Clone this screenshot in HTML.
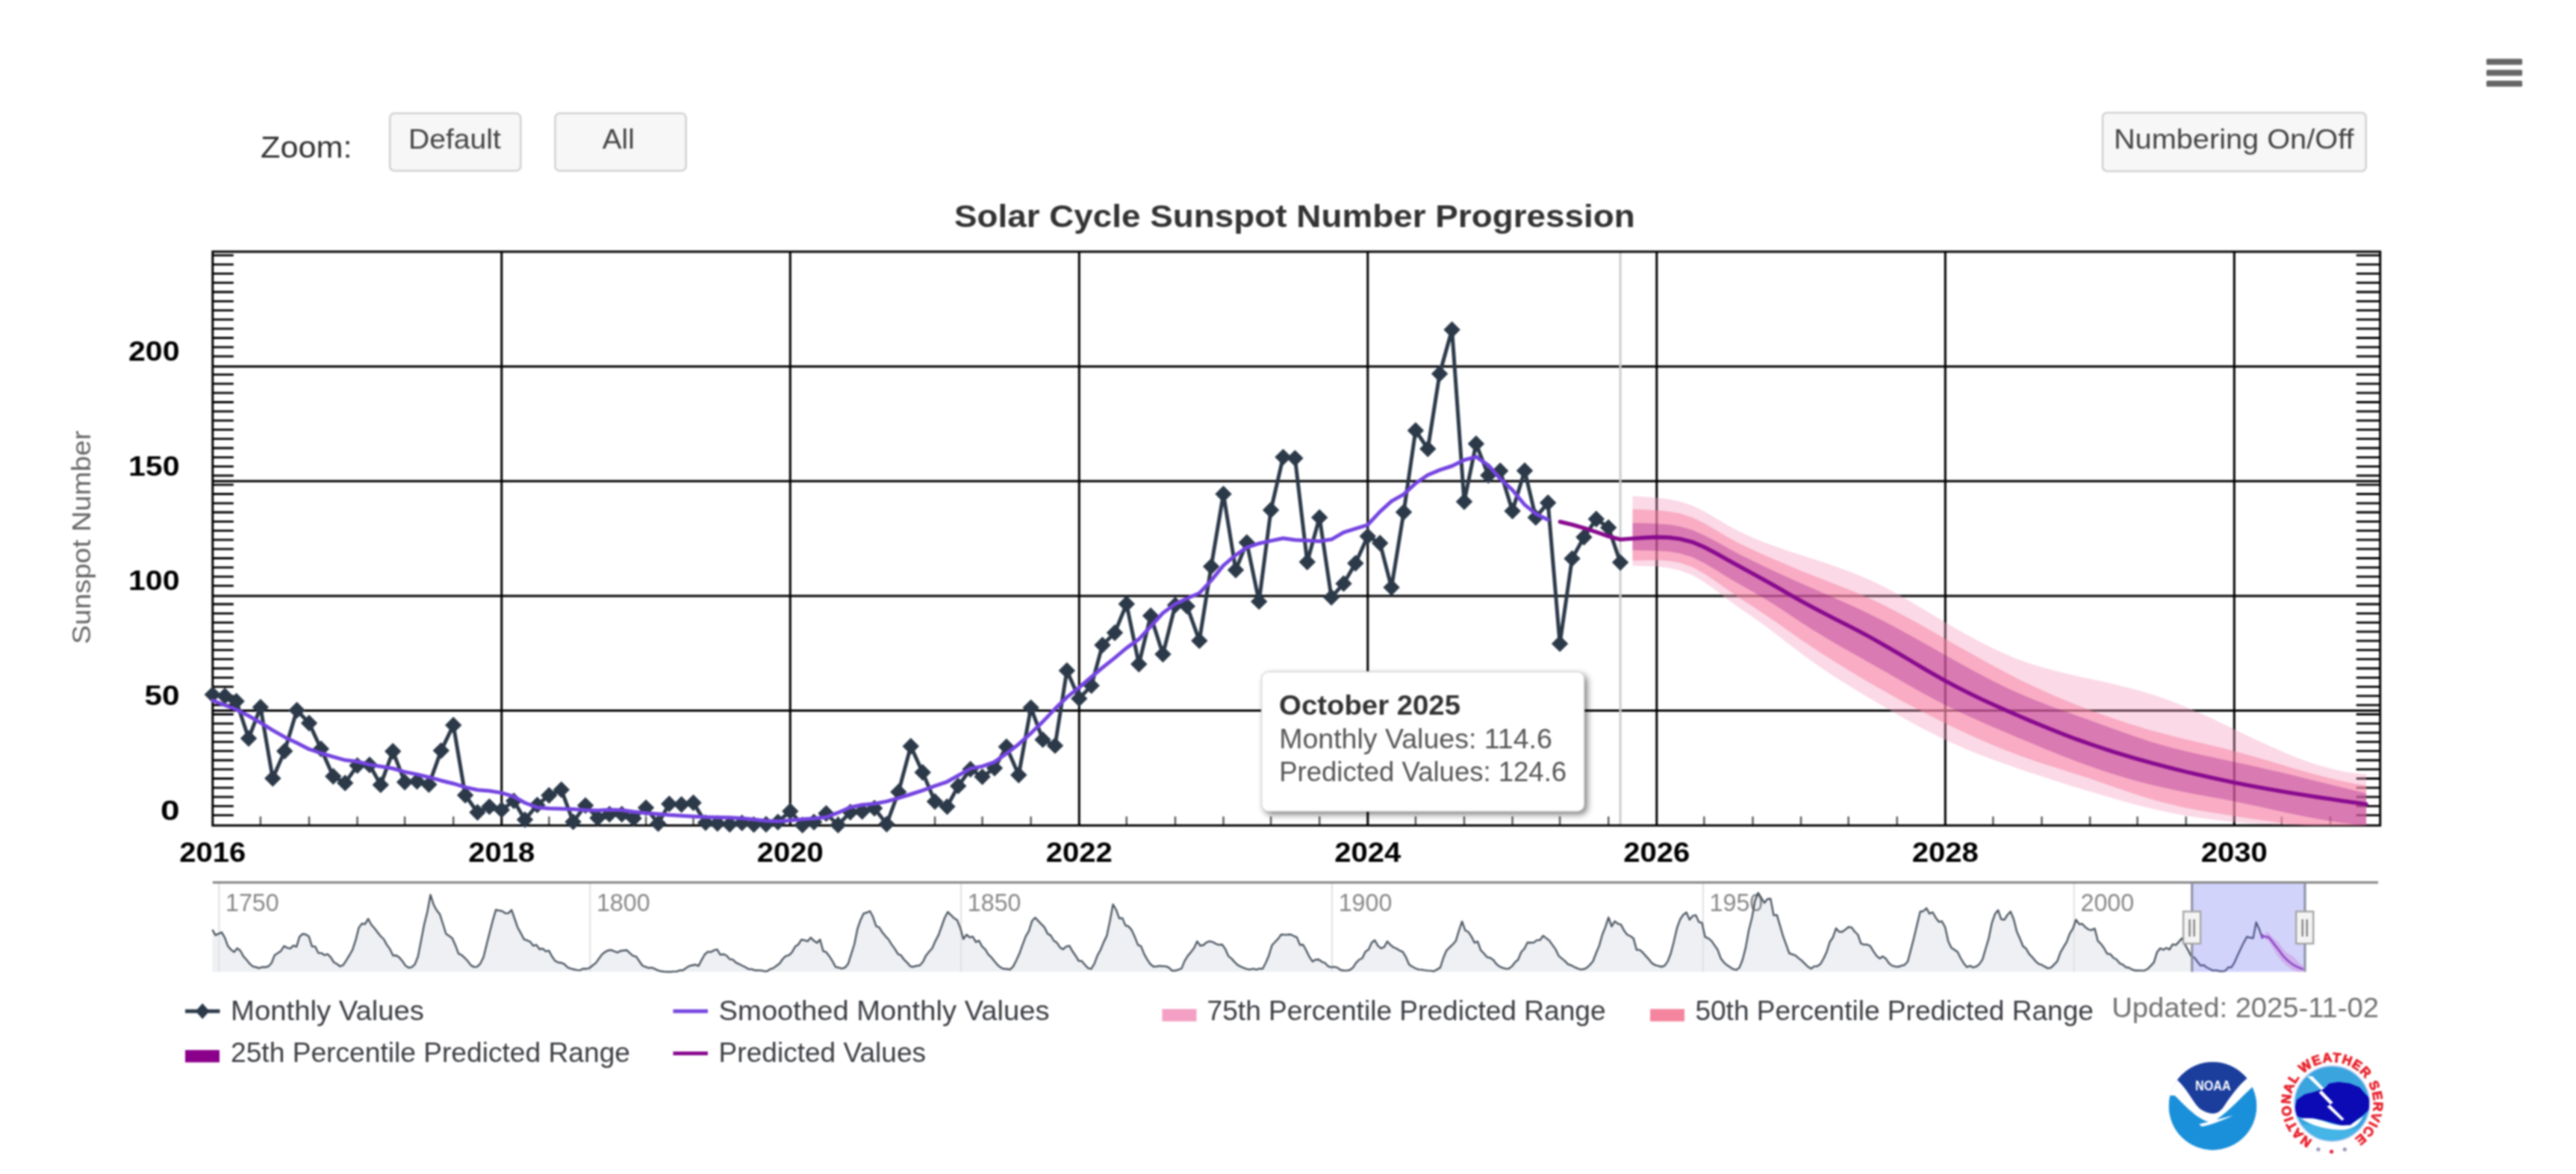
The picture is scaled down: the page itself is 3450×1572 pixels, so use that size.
<!DOCTYPE html>
<html lang="en"><head><meta charset="utf-8"><title>Solar Cycle Sunspot Number Progression</title>
<style>html,body{margin:0;padding:0;background:#fff;overflow:hidden}svg{display:block;width:100vw;height:100vh;filter:blur(1px)}text{font-family:"Liberation Sans", sans-serif}</style></head><body>
<svg width="3450" height="1572" viewBox="0 0 3450 1572">
<defs>
<clipPath id="plotclip"><rect x="268.8" y="317" width="2934.9" height="802.3"/></clipPath>
<clipPath id="bandclip"><rect x="284.8" y="337" width="2902.9" height="768.3"/></clipPath>
<filter id="ttshadow" x="-10%" y="-10%" width="125%" height="130%"><feGaussianBlur in="SourceAlpha" stdDeviation="5"/><feOffset dx="4" dy="4"/><feComponentTransfer><feFuncA type="linear" slope="0.55"/></feComponentTransfer><feMerge><feMergeNode/><feMergeNode in="SourceGraphic"/></feMerge></filter>
</defs>
<rect width="3450" height="1572" fill="#fff"/>
<rect x="3330" y="78.7" width="48" height="8" rx="1.5" fill="#666"/>
<rect x="3330" y="93.6" width="48" height="8" rx="1.5" fill="#666"/>
<rect x="3330" y="108.1" width="48" height="8" rx="1.5" fill="#666"/>
<text x="349" y="210.6" font-size="40" fill="#333" textLength="122.4" lengthAdjust="spacingAndGlyphs">Zoom:</text>
<rect x="522.1" y="151.8" width="175.2" height="76.9" rx="6" fill="#f7f7f7" stroke="#d2d2d2" stroke-width="2.6"/>
<text x="546.9" y="199" font-size="37" fill="#444" textLength="123.9" lengthAdjust="spacingAndGlyphs">Default</text>
<rect x="743.5" y="151.8" width="175.2" height="76.9" rx="6" fill="#f7f7f7" stroke="#d2d2d2" stroke-width="2.6"/>
<text x="806.8" y="199" font-size="37" fill="#444" textLength="43" lengthAdjust="spacingAndGlyphs">All</text>
<rect x="2816" y="151" width="352.7" height="78.3" rx="6" fill="#f7f7f7" stroke="#d2d2d2" stroke-width="2.6"/>
<text x="2830.9" y="199.3" font-size="37.5" fill="#444" textLength="321.6" lengthAdjust="spacingAndGlyphs">Numbering On/Off</text>
<text x="1277.9" y="304.1" font-size="43" fill="#333" font-weight="bold" textLength="911.8" lengthAdjust="spacingAndGlyphs">Solar Cycle Sunspot Number Progression</text>
<line x1="284.8" y1="951.6" x2="3187.7" y2="951.6" stroke="#000" stroke-width="3"/>
<line x1="284.8" y1="798" x2="3187.7" y2="798" stroke="#000" stroke-width="3"/>
<line x1="284.8" y1="644.3" x2="3187.7" y2="644.3" stroke="#000" stroke-width="3"/>
<line x1="284.8" y1="490.7" x2="3187.7" y2="490.7" stroke="#000" stroke-width="3"/>
<line x1="671.8" y1="337" x2="671.8" y2="1105.3" stroke="#000" stroke-width="3"/>
<line x1="1058.3" y1="337" x2="1058.3" y2="1105.3" stroke="#000" stroke-width="3"/>
<line x1="1445.3" y1="337" x2="1445.3" y2="1105.3" stroke="#000" stroke-width="3"/>
<line x1="1831.8" y1="337" x2="1831.8" y2="1105.3" stroke="#000" stroke-width="3"/>
<line x1="2218.8" y1="337" x2="2218.8" y2="1105.3" stroke="#000" stroke-width="3"/>
<line x1="2605.3" y1="337" x2="2605.3" y2="1105.3" stroke="#000" stroke-width="3"/>
<line x1="2992.3" y1="337" x2="2992.3" y2="1105.3" stroke="#000" stroke-width="3"/>
<line x1="348.9" y1="1093.3" x2="348.9" y2="1105.3" stroke="#555" stroke-width="2.4"/>
<line x1="414" y1="1093.3" x2="414" y2="1105.3" stroke="#555" stroke-width="2.4"/>
<line x1="478.6" y1="1093.3" x2="478.6" y2="1105.3" stroke="#555" stroke-width="2.4"/>
<line x1="542.1" y1="1093.3" x2="542.1" y2="1105.3" stroke="#555" stroke-width="2.4"/>
<line x1="607.2" y1="1093.3" x2="607.2" y2="1105.3" stroke="#555" stroke-width="2.4"/>
<line x1="735.3" y1="1093.3" x2="735.3" y2="1105.3" stroke="#555" stroke-width="2.4"/>
<line x1="800.5" y1="1093.3" x2="800.5" y2="1105.3" stroke="#555" stroke-width="2.4"/>
<line x1="865.1" y1="1093.3" x2="865.1" y2="1105.3" stroke="#555" stroke-width="2.4"/>
<line x1="928.6" y1="1093.3" x2="928.6" y2="1105.3" stroke="#555" stroke-width="2.4"/>
<line x1="993.7" y1="1093.3" x2="993.7" y2="1105.3" stroke="#555" stroke-width="2.4"/>
<line x1="1122.4" y1="1093.3" x2="1122.4" y2="1105.3" stroke="#555" stroke-width="2.4"/>
<line x1="1187.5" y1="1093.3" x2="1187.5" y2="1105.3" stroke="#555" stroke-width="2.4"/>
<line x1="1252.1" y1="1093.3" x2="1252.1" y2="1105.3" stroke="#555" stroke-width="2.4"/>
<line x1="1315.6" y1="1093.3" x2="1315.6" y2="1105.3" stroke="#555" stroke-width="2.4"/>
<line x1="1380.7" y1="1093.3" x2="1380.7" y2="1105.3" stroke="#555" stroke-width="2.4"/>
<line x1="1508.8" y1="1093.3" x2="1508.8" y2="1105.3" stroke="#555" stroke-width="2.4"/>
<line x1="1574" y1="1093.3" x2="1574" y2="1105.3" stroke="#555" stroke-width="2.4"/>
<line x1="1638.5" y1="1093.3" x2="1638.5" y2="1105.3" stroke="#555" stroke-width="2.4"/>
<line x1="1702.1" y1="1093.3" x2="1702.1" y2="1105.3" stroke="#555" stroke-width="2.4"/>
<line x1="1767.2" y1="1093.3" x2="1767.2" y2="1105.3" stroke="#555" stroke-width="2.4"/>
<line x1="1895.9" y1="1093.3" x2="1895.9" y2="1105.3" stroke="#555" stroke-width="2.4"/>
<line x1="1961" y1="1093.3" x2="1961" y2="1105.3" stroke="#555" stroke-width="2.4"/>
<line x1="2025.6" y1="1093.3" x2="2025.6" y2="1105.3" stroke="#555" stroke-width="2.4"/>
<line x1="2089.1" y1="1093.3" x2="2089.1" y2="1105.3" stroke="#555" stroke-width="2.4"/>
<line x1="2154.2" y1="1093.3" x2="2154.2" y2="1105.3" stroke="#555" stroke-width="2.4"/>
<line x1="2282.3" y1="1093.3" x2="2282.3" y2="1105.3" stroke="#555" stroke-width="2.4"/>
<line x1="2347.5" y1="1093.3" x2="2347.5" y2="1105.3" stroke="#555" stroke-width="2.4"/>
<line x1="2412" y1="1093.3" x2="2412" y2="1105.3" stroke="#555" stroke-width="2.4"/>
<line x1="2475.6" y1="1093.3" x2="2475.6" y2="1105.3" stroke="#555" stroke-width="2.4"/>
<line x1="2540.7" y1="1093.3" x2="2540.7" y2="1105.3" stroke="#555" stroke-width="2.4"/>
<line x1="2669.3" y1="1093.3" x2="2669.3" y2="1105.3" stroke="#555" stroke-width="2.4"/>
<line x1="2734.5" y1="1093.3" x2="2734.5" y2="1105.3" stroke="#555" stroke-width="2.4"/>
<line x1="2799.1" y1="1093.3" x2="2799.1" y2="1105.3" stroke="#555" stroke-width="2.4"/>
<line x1="2862.6" y1="1093.3" x2="2862.6" y2="1105.3" stroke="#555" stroke-width="2.4"/>
<line x1="2927.7" y1="1093.3" x2="2927.7" y2="1105.3" stroke="#555" stroke-width="2.4"/>
<line x1="3055.8" y1="1093.3" x2="3055.8" y2="1105.3" stroke="#555" stroke-width="2.4"/>
<line x1="3121" y1="1093.3" x2="3121" y2="1105.3" stroke="#555" stroke-width="2.4"/>
<path d="M284.8 1091.7h28M3187.7 1091.7h-32M284.8 1079.4h28M3187.7 1079.4h-32M284.8 1067.1h28M3187.7 1067.1h-32M284.8 1054.8h28M3187.7 1054.8h-32M284.8 1042.5h28M3187.7 1042.5h-32M284.8 1030.2h28M3187.7 1030.2h-32M284.8 1018h28M3187.7 1018h-32M284.8 1005.7h28M3187.7 1005.7h-32M284.8 993.4h28M3187.7 993.4h-32M284.8 981.1h28M3187.7 981.1h-32M284.8 968.8h28M3187.7 968.8h-32M284.8 956.5h28M3187.7 956.5h-32M284.8 944.2h28M3187.7 944.2h-32M284.8 931.9h28M3187.7 931.9h-32M284.8 919.6h28M3187.7 919.6h-32M284.8 907.3h28M3187.7 907.3h-32M284.8 895h28M3187.7 895h-32M284.8 882.7h28M3187.7 882.7h-32M284.8 870.4h28M3187.7 870.4h-32M284.8 858.1h28M3187.7 858.1h-32M284.8 845.9h28M3187.7 845.9h-32M284.8 833.6h28M3187.7 833.6h-32M284.8 821.3h28M3187.7 821.3h-32M284.8 809h28M3187.7 809h-32M284.8 784.4h28M3187.7 784.4h-32M284.8 772.1h28M3187.7 772.1h-32M284.8 759.8h28M3187.7 759.8h-32M284.8 747.5h28M3187.7 747.5h-32M284.8 735.2h28M3187.7 735.2h-32M284.8 722.9h28M3187.7 722.9h-32M284.8 710.6h28M3187.7 710.6h-32M284.8 698.3h28M3187.7 698.3h-32M284.8 686h28M3187.7 686h-32M284.8 673.8h28M3187.7 673.8h-32M284.8 661.5h28M3187.7 661.5h-32M284.8 649.2h28M3187.7 649.2h-32M284.8 636.9h28M3187.7 636.9h-32M284.8 624.6h28M3187.7 624.6h-32M284.8 612.3h28M3187.7 612.3h-32M284.8 600h28M3187.7 600h-32M284.8 587.7h28M3187.7 587.7h-32M284.8 575.4h28M3187.7 575.4h-32M284.8 563.1h28M3187.7 563.1h-32M284.8 550.8h28M3187.7 550.8h-32M284.8 538.5h28M3187.7 538.5h-32M284.8 526.2h28M3187.7 526.2h-32M284.8 513.9h28M3187.7 513.9h-32M284.8 501.7h28M3187.7 501.7h-32M284.8 477.1h28M3187.7 477.1h-32M284.8 464.8h28M3187.7 464.8h-32M284.8 452.5h28M3187.7 452.5h-32M284.8 440.2h28M3187.7 440.2h-32M284.8 427.9h28M3187.7 427.9h-32M284.8 415.6h28M3187.7 415.6h-32M284.8 403.3h28M3187.7 403.3h-32M284.8 391h28M3187.7 391h-32M284.8 378.7h28M3187.7 378.7h-32M284.8 366.4h28M3187.7 366.4h-32M284.8 354.1h28M3187.7 354.1h-32M284.8 341.8h28M3187.7 341.8h-32" stroke="#000" stroke-width="2.8" fill="none"/>
<line x1="2170.1" y1="337" x2="2170.1" y2="1105.3" stroke="#cccccc" stroke-width="3"/>
<rect x="284.8" y="337" width="2902.9" height="768.3" fill="none" stroke="#000" stroke-width="3"/>
<g clip-path="url(#plotclip)">
<path d="M284.8 930.1 L301.2 932 L316.6 939 L333 988.8 L348.9 947 L365.3 1042.3 L381.2 1005.7 L397.6 951 L414 968.2 L429.9 1002.7 L446.3 1039.5 L462.2 1048.4 L478.6 1025.1 L495 1024.2 L509.8 1050.9 L526.2 1006 L542.1 1047.2 L558.5 1046.3 L574.4 1050.6 L590.8 1005.1 L607.2 971 L623.1 1064.7 L639.5 1087.8 L655.4 1080.1 L671.8 1084.4 L688.2 1072.4 L703 1097.6 L719.5 1077.9 L735.3 1065 L751.8 1057.4 L767.6 1100.4 L784.1 1078.6 L800.5 1095.2 L816.3 1090.2 L832.8 1090.2 L848.6 1095.8 L865.1 1081.6 L881.5 1102.8 L896.3 1076.4 L912.7 1077.3 L928.6 1074.9 L945 1101.6 L960.9 1102.5 L977.3 1103.8 L993.7 1101.9 L1009.6 1104.1 L1026 1103.8 L1041.9 1100.7 L1058.3 1086.2 L1074.7 1104.7 L1090.1 1100.7 L1106.5 1089.3 L1122.4 1104.7 L1138.8 1087.5 L1154.7 1086.6 L1171.1 1082.3 L1187.5 1103.5 L1203.4 1060.4 L1219.8 999.3 L1235.7 1034.3 L1252.1 1073.3 L1268.5 1080.1 L1283.3 1052.4 L1299.7 1030 L1315.6 1040.1 L1332 1028.5 L1347.9 999.9 L1364.3 1037.7 L1380.7 947.6 L1396.6 990.4 L1413 998.4 L1428.9 897.9 L1445.3 935.4 L1461.7 918.1 L1476.5 863.7 L1493 847.2 L1508.8 808.7 L1525.3 889.3 L1541.1 824.4 L1557.5 876 L1574 810.3 L1589.8 811.8 L1606.3 857.9 L1622.1 758.6 L1638.5 661.5 L1655 763.3 L1669.8 726.4 L1686.2 805.4 L1702.1 683 L1718.5 612.1 L1734.4 613.6 L1750.8 752.5 L1767.2 692.9 L1783.1 799.8 L1799.5 781.4 L1815.4 754.3 L1831.8 718.1 L1848.2 727.3 L1863.6 786.6 L1880 685.8 L1895.9 576.4 L1912.3 601 L1928.1 500.5 L1944.6 441.5 L1961 671.7 L1976.9 594.2 L1993.3 636.6 L2009.2 630.5 L2025.6 684.3 L2042 630.2 L2056.8 692.9 L2073.2 673.2 L2089.1 861.9 L2105.5 747.9 L2121.4 719.3 L2137.8 695 L2154.2 706.4 L2170.1 753.1" fill="none" stroke="#2b3949" stroke-width="5" stroke-linejoin="round" stroke-linecap="round"/>
<path d="M284.8 918.9l11.2 11.2l-11.2 11.2l-11.2 -11.2zM301.2 920.8l11.2 11.2l-11.2 11.2l-11.2 -11.2zM316.6 927.8l11.2 11.2l-11.2 11.2l-11.2 -11.2zM333 977.6l11.2 11.2l-11.2 11.2l-11.2 -11.2zM348.9 935.8l11.2 11.2l-11.2 11.2l-11.2 -11.2zM365.3 1031.1l11.2 11.2l-11.2 11.2l-11.2 -11.2zM381.2 994.5l11.2 11.2l-11.2 11.2l-11.2 -11.2zM397.6 939.8l11.2 11.2l-11.2 11.2l-11.2 -11.2zM414 957l11.2 11.2l-11.2 11.2l-11.2 -11.2zM429.9 991.5l11.2 11.2l-11.2 11.2l-11.2 -11.2zM446.3 1028.3l11.2 11.2l-11.2 11.2l-11.2 -11.2zM462.2 1037.2l11.2 11.2l-11.2 11.2l-11.2 -11.2zM478.6 1013.9l11.2 11.2l-11.2 11.2l-11.2 -11.2zM495 1013l11.2 11.2l-11.2 11.2l-11.2 -11.2zM509.8 1039.7l11.2 11.2l-11.2 11.2l-11.2 -11.2zM526.2 994.8l11.2 11.2l-11.2 11.2l-11.2 -11.2zM542.1 1036l11.2 11.2l-11.2 11.2l-11.2 -11.2zM558.5 1035.1l11.2 11.2l-11.2 11.2l-11.2 -11.2zM574.4 1039.4l11.2 11.2l-11.2 11.2l-11.2 -11.2zM590.8 993.9l11.2 11.2l-11.2 11.2l-11.2 -11.2zM607.2 959.8l11.2 11.2l-11.2 11.2l-11.2 -11.2zM623.1 1053.5l11.2 11.2l-11.2 11.2l-11.2 -11.2zM639.5 1076.6l11.2 11.2l-11.2 11.2l-11.2 -11.2zM655.4 1068.9l11.2 11.2l-11.2 11.2l-11.2 -11.2zM671.8 1073.2l11.2 11.2l-11.2 11.2l-11.2 -11.2zM688.2 1061.2l11.2 11.2l-11.2 11.2l-11.2 -11.2zM703 1086.4l11.2 11.2l-11.2 11.2l-11.2 -11.2zM719.5 1066.7l11.2 11.2l-11.2 11.2l-11.2 -11.2zM735.3 1053.8l11.2 11.2l-11.2 11.2l-11.2 -11.2zM751.8 1046.2l11.2 11.2l-11.2 11.2l-11.2 -11.2zM767.6 1089.2l11.2 11.2l-11.2 11.2l-11.2 -11.2zM784.1 1067.4l11.2 11.2l-11.2 11.2l-11.2 -11.2zM800.5 1084l11.2 11.2l-11.2 11.2l-11.2 -11.2zM816.3 1079l11.2 11.2l-11.2 11.2l-11.2 -11.2zM832.8 1079l11.2 11.2l-11.2 11.2l-11.2 -11.2zM848.6 1084.6l11.2 11.2l-11.2 11.2l-11.2 -11.2zM865.1 1070.4l11.2 11.2l-11.2 11.2l-11.2 -11.2zM881.5 1091.6l11.2 11.2l-11.2 11.2l-11.2 -11.2zM896.3 1065.2l11.2 11.2l-11.2 11.2l-11.2 -11.2zM912.7 1066.1l11.2 11.2l-11.2 11.2l-11.2 -11.2zM928.6 1063.7l11.2 11.2l-11.2 11.2l-11.2 -11.2zM945 1090.4l11.2 11.2l-11.2 11.2l-11.2 -11.2zM960.9 1091.3l11.2 11.2l-11.2 11.2l-11.2 -11.2zM977.3 1092.6l11.2 11.2l-11.2 11.2l-11.2 -11.2zM993.7 1090.7l11.2 11.2l-11.2 11.2l-11.2 -11.2zM1009.6 1092.9l11.2 11.2l-11.2 11.2l-11.2 -11.2zM1026 1092.6l11.2 11.2l-11.2 11.2l-11.2 -11.2zM1041.9 1089.5l11.2 11.2l-11.2 11.2l-11.2 -11.2zM1058.3 1075l11.2 11.2l-11.2 11.2l-11.2 -11.2zM1074.7 1093.5l11.2 11.2l-11.2 11.2l-11.2 -11.2zM1090.1 1089.5l11.2 11.2l-11.2 11.2l-11.2 -11.2zM1106.5 1078.1l11.2 11.2l-11.2 11.2l-11.2 -11.2zM1122.4 1093.5l11.2 11.2l-11.2 11.2l-11.2 -11.2zM1138.8 1076.3l11.2 11.2l-11.2 11.2l-11.2 -11.2zM1154.7 1075.4l11.2 11.2l-11.2 11.2l-11.2 -11.2zM1171.1 1071.1l11.2 11.2l-11.2 11.2l-11.2 -11.2zM1187.5 1092.3l11.2 11.2l-11.2 11.2l-11.2 -11.2zM1203.4 1049.2l11.2 11.2l-11.2 11.2l-11.2 -11.2zM1219.8 988.1l11.2 11.2l-11.2 11.2l-11.2 -11.2zM1235.7 1023.1l11.2 11.2l-11.2 11.2l-11.2 -11.2zM1252.1 1062.1l11.2 11.2l-11.2 11.2l-11.2 -11.2zM1268.5 1068.9l11.2 11.2l-11.2 11.2l-11.2 -11.2zM1283.3 1041.2l11.2 11.2l-11.2 11.2l-11.2 -11.2zM1299.7 1018.8l11.2 11.2l-11.2 11.2l-11.2 -11.2zM1315.6 1028.9l11.2 11.2l-11.2 11.2l-11.2 -11.2zM1332 1017.3l11.2 11.2l-11.2 11.2l-11.2 -11.2zM1347.9 988.7l11.2 11.2l-11.2 11.2l-11.2 -11.2zM1364.3 1026.5l11.2 11.2l-11.2 11.2l-11.2 -11.2zM1380.7 936.4l11.2 11.2l-11.2 11.2l-11.2 -11.2zM1396.6 979.2l11.2 11.2l-11.2 11.2l-11.2 -11.2zM1413 987.2l11.2 11.2l-11.2 11.2l-11.2 -11.2zM1428.9 886.7l11.2 11.2l-11.2 11.2l-11.2 -11.2zM1445.3 924.2l11.2 11.2l-11.2 11.2l-11.2 -11.2zM1461.7 906.9l11.2 11.2l-11.2 11.2l-11.2 -11.2zM1476.5 852.5l11.2 11.2l-11.2 11.2l-11.2 -11.2zM1493 836l11.2 11.2l-11.2 11.2l-11.2 -11.2zM1508.8 797.5l11.2 11.2l-11.2 11.2l-11.2 -11.2zM1525.3 878.1l11.2 11.2l-11.2 11.2l-11.2 -11.2zM1541.1 813.2l11.2 11.2l-11.2 11.2l-11.2 -11.2zM1557.5 864.8l11.2 11.2l-11.2 11.2l-11.2 -11.2zM1574 799.1l11.2 11.2l-11.2 11.2l-11.2 -11.2zM1589.8 800.6l11.2 11.2l-11.2 11.2l-11.2 -11.2zM1606.3 846.7l11.2 11.2l-11.2 11.2l-11.2 -11.2zM1622.1 747.4l11.2 11.2l-11.2 11.2l-11.2 -11.2zM1638.5 650.3l11.2 11.2l-11.2 11.2l-11.2 -11.2zM1655 752.1l11.2 11.2l-11.2 11.2l-11.2 -11.2zM1669.8 715.2l11.2 11.2l-11.2 11.2l-11.2 -11.2zM1686.2 794.2l11.2 11.2l-11.2 11.2l-11.2 -11.2zM1702.1 671.8l11.2 11.2l-11.2 11.2l-11.2 -11.2zM1718.5 600.9l11.2 11.2l-11.2 11.2l-11.2 -11.2zM1734.4 602.4l11.2 11.2l-11.2 11.2l-11.2 -11.2zM1750.8 741.3l11.2 11.2l-11.2 11.2l-11.2 -11.2zM1767.2 681.7l11.2 11.2l-11.2 11.2l-11.2 -11.2zM1783.1 788.6l11.2 11.2l-11.2 11.2l-11.2 -11.2zM1799.5 770.2l11.2 11.2l-11.2 11.2l-11.2 -11.2zM1815.4 743.1l11.2 11.2l-11.2 11.2l-11.2 -11.2zM1831.8 706.9l11.2 11.2l-11.2 11.2l-11.2 -11.2zM1848.2 716.1l11.2 11.2l-11.2 11.2l-11.2 -11.2zM1863.6 775.4l11.2 11.2l-11.2 11.2l-11.2 -11.2zM1880 674.6l11.2 11.2l-11.2 11.2l-11.2 -11.2zM1895.9 565.2l11.2 11.2l-11.2 11.2l-11.2 -11.2zM1912.3 589.8l11.2 11.2l-11.2 11.2l-11.2 -11.2zM1928.1 489.3l11.2 11.2l-11.2 11.2l-11.2 -11.2zM1944.6 430.3l11.2 11.2l-11.2 11.2l-11.2 -11.2zM1961 660.5l11.2 11.2l-11.2 11.2l-11.2 -11.2zM1976.9 583l11.2 11.2l-11.2 11.2l-11.2 -11.2zM1993.3 625.4l11.2 11.2l-11.2 11.2l-11.2 -11.2zM2009.2 619.3l11.2 11.2l-11.2 11.2l-11.2 -11.2zM2025.6 673.1l11.2 11.2l-11.2 11.2l-11.2 -11.2zM2042 619l11.2 11.2l-11.2 11.2l-11.2 -11.2zM2056.8 681.7l11.2 11.2l-11.2 11.2l-11.2 -11.2zM2073.2 662l11.2 11.2l-11.2 11.2l-11.2 -11.2zM2089.1 850.7l11.2 11.2l-11.2 11.2l-11.2 -11.2zM2105.5 736.7l11.2 11.2l-11.2 11.2l-11.2 -11.2zM2121.4 708.1l11.2 11.2l-11.2 11.2l-11.2 -11.2zM2137.8 683.8l11.2 11.2l-11.2 11.2l-11.2 -11.2zM2154.2 695.2l11.2 11.2l-11.2 11.2l-11.2 -11.2zM2170.1 741.9l11.2 11.2l-11.2 11.2l-11.2 -11.2z" fill="#2b3949"/>
<path d="M284.8 938 L301.2 944.1 L316.6 950.3 L333 958.5 L348.9 967.6 L365.3 977.9 L381.2 986.9 L397.6 994.7 L414 1003.2 L429.9 1008.5 L446.3 1013.4 L462.2 1017.8 L478.6 1019.8 L495 1023.9 L509.8 1026.3 L526.2 1029 L542.1 1033.6 L558.5 1036.9 L574.4 1040.7 L590.8 1045.2 L607.2 1049.2 L623.1 1054.1 L639.5 1057.8 L655.4 1059 L671.8 1061.6 L688.2 1066.7 L703 1075 L719.5 1081.2 L735.3 1082.4 L751.8 1083.1 L767.6 1083.6 L784.1 1084.8 L800.5 1085.2 L816.3 1084.3 L832.8 1084.7 L848.6 1086.9 L865.1 1088.8 L881.5 1090 L896.3 1091.3 L912.7 1092.2 L928.6 1093.3 L945 1094.1 L960.9 1094.5 L977.3 1094.7 L993.7 1095.8 L1009.6 1097.3 L1026 1099.1 L1041.9 1099.7 L1058.3 1098.5 L1074.7 1096.9 L1090.1 1096.1 L1106.5 1094.3 L1122.4 1088.2 L1138.8 1081 L1154.7 1077.7 L1171.1 1076.2 L1187.5 1073.1 L1203.4 1068.7 L1219.8 1063.5 L1235.7 1058.4 L1252.1 1052.3 L1268.5 1046.8 L1283.3 1038.5 L1299.7 1029.1 L1315.6 1026.1 L1332 1020.4 L1347.9 1008.9 L1364.3 996.4 L1380.7 981.8 L1396.6 966.4 L1413 949.1 L1428.9 933.6 L1445.3 920.5 L1461.7 906.5 L1476.5 894 L1493 880.9 L1508.8 867.6 L1525.3 855.9 L1541.1 838.7 L1557.5 820.8 L1574 808.7 L1589.8 801.2 L1606.3 794.2 L1622.1 777.4 L1638.5 757.1 L1655 743.2 L1669.8 733.1 L1686.2 727.7 L1702.1 724.1 L1718.5 720.7 L1734.4 722.9 L1750.8 723.7 L1767.2 724.7 L1783.1 722.3 L1799.5 712.8 L1815.4 707.9 L1831.8 702.8 L1848.2 685.1 L1863.6 671.2 L1880 661.8 L1895.9 647.2 L1912.3 636 L1928.1 629.4 L1944.6 624 L1961 616 L1976.9 611.6 L1993.3 623 L2009.2 641 L2025.6 656.2 L2042 675.9 L2056.8 687.9 L2073.2 696" fill="none" stroke="#7444e0" stroke-width="5" stroke-linejoin="round" stroke-linecap="round"/>
</g>
<g clip-path="url(#bandclip)">
<path d="M2186.5 664.3 L2202.4 665.3 L2218.8 666.4 L2235.2 668.4 L2250 671.4 L2266.5 676.9 L2282.3 684.7 L2298.7 694.3 L2314.6 703.8 L2331 712.5 L2347.5 720 L2363.3 726.5 L2379.8 732.5 L2395.6 737.9 L2412 743.3 L2428.5 748.5 L2443.3 753.3 L2459.7 758.9 L2475.6 764.7 L2492 771.2 L2507.9 778.2 L2524.3 786.3 L2540.7 795.2 L2556.6 804.2 L2573 813.9 L2588.9 823.4 L2605.3 833.3 L2621.7 842.9 L2637.1 851.6 L2653.5 860.3 L2669.3 868.3 L2685.8 875.8 L2701.6 882.4 L2718.1 888.2 L2734.5 893.3 L2750.4 897.7 L2766.8 901.7 L2782.6 905.4 L2799.1 908.9 L2815.5 912.6 L2830.3 915.9 L2846.7 919.9 L2862.6 924.1 L2879 928.9 L2894.9 934.1 L2911.3 940.2 L2927.7 946.8 L2943.6 953.7 L2960 961.1 L2975.9 968.6 L2992.3 976.5 L3008.7 984.4 L3023.5 991.5 L3039.9 999.1 L3055.8 1006.1 L3072.2 1012.9 L3088.1 1018.9 L3104.5 1024.5 L3121 1029.1 L3136.8 1032.7 L3153.2 1035.3 L3169.1 1036.7 L3169.1 1105.3 L3153.2 1105.4 L3136.8 1105.5 L3121 1105.5 L3104.5 1105.4 L3088.1 1105.3 L3072.2 1105 L3055.8 1104.5 L3039.9 1103.9 L3023.5 1103.1 L3008.7 1102.1 L2992.3 1100.7 L2975.9 1099 L2960 1097.1 L2943.6 1094.8 L2927.7 1092.2 L2911.3 1089.2 L2894.9 1085.8 L2879 1082.1 L2862.6 1078 L2846.7 1073.7 L2830.3 1069.1 L2815.5 1064.7 L2799.1 1059.8 L2782.6 1054.9 L2766.8 1050 L2750.4 1044.8 L2734.5 1039.6 L2718.1 1034.2 L2701.6 1028.7 L2685.8 1023.1 L2669.3 1017.2 L2653.5 1011.2 L2637.1 1004.7 L2621.7 998.1 L2605.3 990.7 L2588.9 982.6 L2573 974.4 L2556.6 965.5 L2540.7 956.5 L2524.3 947 L2507.9 937.3 L2492 927.8 L2475.6 917.7 L2459.7 907.7 L2443.3 896.9 L2428.5 886.7 L2412 874.8 L2395.6 862.2 L2379.8 849.9 L2363.3 837.6 L2347.5 826.3 L2331 815 L2314.6 803.2 L2298.7 791.1 L2282.3 779.3 L2266.5 770 L2250 763.7 L2235.2 760.4 L2218.8 758.6 L2202.4 757.9 L2186.5 757.4Z" fill="#f4a0c4" fill-opacity="0.4"/>
<path d="M2186.5 681.8 L2202.4 682.6 L2218.8 683.3 L2235.2 684.9 L2250 687.6 L2266.5 692.9 L2282.3 700.6 L2298.7 710.2 L2314.6 719.7 L2331 728.5 L2347.5 736.3 L2363.3 743.4 L2379.8 750.5 L2395.6 757.3 L2412 764.2 L2428.5 770.7 L2443.3 776.5 L2459.7 782.9 L2475.6 789.2 L2492 796.1 L2507.9 803.1 L2524.3 811 L2540.7 819.4 L2556.6 827.9 L2573 837 L2588.9 846 L2605.3 855.4 L2621.7 864.9 L2637.1 873.6 L2653.5 882.8 L2669.3 891.6 L2685.8 900.3 L2701.6 908.4 L2718.1 916.5 L2734.5 924.1 L2750.4 931.2 L2766.8 938.1 L2782.6 944.5 L2799.1 950.7 L2815.5 956.8 L2830.3 962 L2846.7 967.5 L2862.6 972.5 L2879 977.4 L2894.9 981.8 L2911.3 986.1 L2927.7 990.1 L2943.6 993.8 L2960 997.7 L2975.9 1001.5 L2992.3 1005.7 L3008.7 1010.2 L3023.5 1014.4 L3039.9 1019.3 L3055.8 1024 L3072.2 1028.9 L3088.1 1033.5 L3104.5 1038 L3121 1042.2 L3136.8 1045.9 L3153.2 1049.3 L3169.1 1052 L3169.1 1105.4 L3153.2 1106.6 L3136.8 1107.1 L3121 1107 L3104.5 1106.4 L3088.1 1105.2 L3072.2 1103.7 L3055.8 1101.9 L3039.9 1099.8 L3023.5 1097.4 L3008.7 1095.2 L2992.3 1092.7 L2975.9 1090.1 L2960 1087.6 L2943.6 1084.7 L2927.7 1081.7 L2911.3 1078.1 L2894.9 1074 L2879 1069.5 L2862.6 1064.3 L2846.7 1059 L2830.3 1053.4 L2815.5 1048.2 L2799.1 1042.6 L2782.6 1037.3 L2766.8 1032.3 L2750.4 1027 L2734.5 1021.9 L2718.1 1016.4 L2701.6 1010.5 L2685.8 1004.5 L2669.3 997.8 L2653.5 991 L2637.1 983.6 L2621.7 976.5 L2605.3 968.5 L2588.9 960.3 L2573 952.1 L2556.6 943.5 L2540.7 934.9 L2524.3 925.8 L2507.9 916.4 L2492 907.2 L2475.6 897.3 L2459.7 887.6 L2443.3 877.2 L2428.5 867.5 L2412 856.4 L2395.6 844.9 L2379.8 833.7 L2363.3 822.5 L2347.5 812.1 L2331 801.5 L2314.6 790.3 L2298.7 778.9 L2282.3 767.9 L2266.5 759.3 L2250 753.6 L2235.2 751 L2218.8 750 L2202.4 750.2 L2186.5 750.7Z" fill="#f7809f" fill-opacity="0.5"/>
<path d="M2186.5 700.3 L2202.4 700.6 L2218.8 701.2 L2235.2 702.6 L2250 705.1 L2266.5 709.8 L2282.3 716.7 L2298.7 725.3 L2314.6 734.2 L2331 742.9 L2347.5 751.1 L2363.3 758.7 L2379.8 766.4 L2395.6 773.7 L2412 781.1 L2428.5 788.3 L2443.3 794.8 L2459.7 802 L2475.6 809.1 L2492 816.6 L2507.9 824.3 L2524.3 832.6 L2540.7 841.2 L2556.6 849.9 L2573 859 L2588.9 867.9 L2605.3 877.3 L2621.7 886.5 L2637.1 895 L2653.5 903.8 L2669.3 912 L2685.8 920.2 L2701.6 927.5 L2718.1 934.6 L2734.5 941.1 L2750.4 947.2 L2766.8 953.1 L2782.6 958.8 L2799.1 964.5 L2815.5 970.5 L2830.3 975.9 L2846.7 981.8 L2862.6 987.3 L2879 992.7 L2894.9 997.5 L2911.3 1002 L2927.7 1006.1 L2943.6 1009.7 L2960 1013.3 L2975.9 1016.7 L2992.3 1020.2 L3008.7 1023.8 L3023.5 1027.1 L3039.9 1030.9 L3055.8 1034.6 L3072.2 1038.5 L3088.1 1042.4 L3104.5 1046.4 L3121 1050.5 L3136.8 1054.5 L3153.2 1058.6 L3169.1 1062.6 L3169.1 1105.2 L3153.2 1103.8 L3136.8 1101.8 L3121 1099.4 L3104.5 1096.6 L3088.1 1093.5 L3072.2 1090.2 L3055.8 1086.7 L3039.9 1083.2 L3023.5 1079.6 L3008.7 1076.4 L2992.3 1073 L2975.9 1069.8 L2960 1066.9 L2943.6 1063.9 L2927.7 1060.9 L2911.3 1057.6 L2894.9 1054.1 L2879 1050.3 L2862.6 1046 L2846.7 1041.5 L2830.3 1036.5 L2815.5 1031.7 L2799.1 1026 L2782.6 1020.1 L2766.8 1014 L2750.4 1007.4 L2734.5 1000.9 L2718.1 994 L2701.6 987.2 L2685.8 980.5 L2669.3 973.5 L2653.5 966.6 L2637.1 959.2 L2621.7 952 L2605.3 944 L2588.9 935.4 L2573 926.7 L2556.6 917.5 L2540.7 908.5 L2524.3 899.1 L2507.9 889.7 L2492 880.7 L2475.6 871.4 L2459.7 862.4 L2443.3 852.7 L2428.5 843.7 L2412 833.3 L2395.6 822.3 L2379.8 811.7 L2363.3 801.4 L2347.5 792.2 L2331 783 L2314.6 773.5 L2298.7 763.6 L2282.3 753.8 L2266.5 746.1 L2250 741 L2235.2 738.6 L2218.8 737.4 L2202.4 737.1 L2186.5 736.8Z" fill="#8b008b" fill-opacity="0.29"/>
</g>
<path d="M2089.3 698.7 L2106 702.7 L2122.2 707.3 L2138.2 712.5 L2154.3 718.1 L2170.1 722.4 L2186.5 721.1 L2202.4 720 L2218.8 719.3 L2235.2 719.7 L2250 721.6 L2266.5 725.8 L2282.3 732.5 L2298.7 741.1 L2314.6 750.2 L2331 759.2 L2347.5 768.1 L2363.3 776.8 L2379.8 786.2 L2395.6 795.3 L2412 804.7 L2428.5 813.6 L2443.3 821.4 L2459.7 829.8 L2475.6 837.9 L2492 846.4 L2507.9 855 L2524.3 864.3 L2540.7 873.9 L2556.6 883.3 L2573 893.1 L2588.9 902.4 L2605.3 911.7 L2621.7 920.4 L2637.1 928.2 L2653.5 936.1 L2669.3 943.4 L2685.8 950.7 L2701.6 957.6 L2718.1 964.7 L2734.5 971.5 L2750.4 978 L2766.8 984.4 L2782.6 990.4 L2799.1 996.2 L2815.5 1001.8 L2830.3 1006.6 L2846.7 1011.7 L2862.6 1016.3 L2879 1020.9 L2894.9 1025.2 L2911.3 1029.4 L2927.7 1033.5 L2943.6 1037.2 L2960 1040.9 L2975.9 1044.4 L2992.3 1047.8 L3008.7 1051.1 L3023.5 1053.9 L3039.9 1056.9 L3055.8 1059.6 L3072.2 1062.4 L3088.1 1064.9 L3104.5 1067.5 L3121 1069.9 L3136.8 1072.3 L3153.2 1074.6 L3169.1 1076.9" fill="none" stroke="#880a8e" stroke-width="5.4" stroke-linejoin="round" stroke-linecap="round"/>
<text x="284.8" y="1153.6" font-size="37" fill="#000" font-weight="bold" text-anchor="middle" textLength="89.1" lengthAdjust="spacingAndGlyphs">2016</text>
<text x="671.8" y="1153.6" font-size="37" fill="#000" font-weight="bold" text-anchor="middle" textLength="89.1" lengthAdjust="spacingAndGlyphs">2018</text>
<text x="1058.3" y="1153.6" font-size="37" fill="#000" font-weight="bold" text-anchor="middle" textLength="89.1" lengthAdjust="spacingAndGlyphs">2020</text>
<text x="1445.3" y="1153.6" font-size="37" fill="#000" font-weight="bold" text-anchor="middle" textLength="89.1" lengthAdjust="spacingAndGlyphs">2022</text>
<text x="1831.8" y="1153.6" font-size="37" fill="#000" font-weight="bold" text-anchor="middle" textLength="89.1" lengthAdjust="spacingAndGlyphs">2024</text>
<text x="2218.8" y="1153.6" font-size="37" fill="#000" font-weight="bold" text-anchor="middle" textLength="89.1" lengthAdjust="spacingAndGlyphs">2026</text>
<text x="2605.3" y="1153.6" font-size="37" fill="#000" font-weight="bold" text-anchor="middle" textLength="89.1" lengthAdjust="spacingAndGlyphs">2028</text>
<text x="2992.3" y="1153.6" font-size="37" fill="#000" font-weight="bold" text-anchor="middle" textLength="89.1" lengthAdjust="spacingAndGlyphs">2030</text>
<text x="240.6" y="1097.7" font-size="37" fill="#000" font-weight="bold" text-anchor="end" textLength="25.6" lengthAdjust="spacingAndGlyphs">0</text>
<text x="240.6" y="944" font-size="37" fill="#000" font-weight="bold" text-anchor="end" textLength="47.1" lengthAdjust="spacingAndGlyphs">50</text>
<text x="240.6" y="790.4" font-size="37" fill="#000" font-weight="bold" text-anchor="end" textLength="68.6" lengthAdjust="spacingAndGlyphs">100</text>
<text x="240.6" y="636.7" font-size="37" fill="#000" font-weight="bold" text-anchor="end" textLength="68.6" lengthAdjust="spacingAndGlyphs">150</text>
<text x="240.6" y="483.1" font-size="37" fill="#000" font-weight="bold" text-anchor="end" textLength="68.6" lengthAdjust="spacingAndGlyphs">200</text>
<g transform="translate(121 719.5) rotate(-90)">
<text x="0" y="0" font-size="35.5" fill="#666" text-anchor="middle" textLength="285.9" lengthAdjust="spacingAndGlyphs">Sunspot Number</text>
</g>
<g filter="url(#ttshadow)"><rect x="1689.6" y="899.6" width="432" height="186.6" rx="9" fill="#fff"/></g>
<rect x="1689.6" y="899.6" width="432" height="186.6" rx="9" fill="none" stroke="#d8d8d8" stroke-width="1.5"/>
<text x="1713.1" y="957.2" font-size="37" fill="#333" font-weight="bold" textLength="242.9" lengthAdjust="spacingAndGlyphs">October 2025</text>
<text x="1713.2" y="1001.8" font-size="36.5" fill="#555" textLength="365.7" lengthAdjust="spacingAndGlyphs">Monthly Values: 114.6</text>
<text x="1713.2" y="1046.2" font-size="36.5" fill="#555" textLength="384.9" lengthAdjust="spacingAndGlyphs">Predicted Values: 124.6</text>
<clipPath id="navfill"><rect x="0" y="1100" width="2935.7" height="300"/></clipPath>
<path d="M284.4 1301.3 L284.4 1244.9 L288.5 1252.2 L292.7 1250.3 L296.9 1248.4 L301.1 1255.7 L305.2 1266.8 L309.4 1271.6 L313.6 1274.7 L317.7 1269.8 L321.9 1273 L326.1 1280.6 L330.3 1285.2 L334.4 1290.4 L338.6 1294.1 L342.8 1295 L347 1296.4 L351.1 1294.9 L355.3 1295 L359.5 1294 L363.7 1289.5 L367.8 1278.9 L372 1276.3 L376.2 1273.4 L380.4 1266.8 L384.5 1269.1 L388.7 1270.1 L392.9 1266.1 L397.1 1267.7 L401.2 1254.2 L405.4 1250.5 L409.6 1251.2 L413.7 1253.9 L417.9 1267.3 L422.1 1267.4 L426.3 1276 L430.4 1276.1 L434.6 1278.9 L438.8 1277.7 L443 1281.9 L447.1 1288.5 L451.3 1290.7 L455.5 1294 L459.7 1292.1 L463.8 1285.8 L468 1279 L472.2 1271.7 L476.4 1258.7 L480.5 1242.4 L484.7 1236.8 L488.9 1237.3 L493.1 1230.3 L497.2 1238 L501.4 1242.8 L505.6 1248.2 L509.7 1253.5 L513.9 1257.5 L518.1 1265.1 L522.3 1270.9 L526.4 1279.6 L530.6 1279.2 L534.8 1282.1 L539 1287 L543.1 1293.1 L547.3 1295.8 L551.5 1295.1 L555.7 1291.1 L559.8 1280.7 L564 1259.2 L568.2 1237.5 L572.4 1220.8 L576.5 1198.2 L580.7 1211.2 L584.9 1219 L589.1 1224.3 L593.2 1237 L597.4 1250.5 L601.6 1253.3 L605.8 1256.4 L609.9 1265.7 L614.1 1276.9 L618.3 1278.8 L622.4 1282.7 L626.6 1287 L630.8 1292.6 L635 1294.9 L639.1 1294.4 L643.3 1290.3 L647.5 1281.8 L651.7 1264.8 L655.8 1248.6 L660 1232.3 L664.2 1218.2 L668.4 1219.3 L672.5 1219.9 L676.7 1222.8 L680.9 1222.9 L685.1 1218.4 L689.2 1230 L693.4 1242.2 L697.6 1249.7 L701.8 1257.6 L705.9 1259.2 L710.1 1261 L714.3 1266.4 L718.4 1265.1 L722.6 1271 L726.8 1270.2 L731 1273.8 L735.1 1272.9 L739.3 1280.8 L743.5 1286.6 L747.7 1288.7 L751.8 1289.2 L756 1291.1 L760.2 1295.3 L764.4 1296.9 L768.5 1298 L772.7 1298.9 L776.9 1299.1 L781.1 1297 L785.2 1297.3 L789.4 1296.2 L793.6 1292.8 L797.8 1289.6 L801.9 1284 L806.1 1278.1 L810.3 1274.7 L814.4 1272.7 L818.6 1272 L822.8 1273.9 L827 1275.3 L831.1 1273.3 L835.3 1272.7 L839.5 1272.3 L843.7 1276.3 L847.8 1279.9 L852 1280.9 L856.2 1287 L860.4 1293 L864.5 1294.7 L868.7 1296.1 L872.9 1295.7 L877.1 1297.3 L881.2 1299.3 L885.4 1300.5 L889.6 1301 L893.8 1301.3 L897.9 1301.3 L902.1 1300.9 L906.3 1300.9 L910.4 1299.3 L914.6 1299.2 L918.8 1296.3 L923 1293.6 L927.1 1292.5 L931.3 1291.7 L935.5 1293.4 L939.7 1285.3 L943.8 1278 L948 1274.4 L952.2 1274.8 L956.4 1272.4 L960.5 1271.3 L964.7 1278.4 L968.9 1277.7 L973.1 1279.5 L977.2 1284.2 L981.4 1284.9 L985.6 1288.9 L989.8 1290.8 L993.9 1293 L998.1 1294.9 L1002.3 1297.5 L1006.5 1297.7 L1010.6 1299.2 L1014.8 1299.2 L1019 1299.4 L1023.1 1300.2 L1027.3 1300.5 L1031.5 1297.7 L1035.7 1296.4 L1039.8 1293.3 L1044 1290.2 L1048.2 1284.2 L1052.4 1280.1 L1056.5 1279.1 L1060.7 1275.1 L1064.9 1267.6 L1069.1 1264.8 L1073.2 1258.3 L1077.4 1258.9 L1081.6 1260.4 L1085.8 1255.4 L1089.9 1259.6 L1094.1 1262.6 L1098.3 1258.1 L1102.5 1273.5 L1106.6 1274.9 L1110.8 1280.4 L1115 1287.1 L1119.1 1294.8 L1123.3 1295.6 L1127.5 1296.8 L1131.7 1295.6 L1135.8 1290.8 L1140 1277.7 L1144.2 1264.5 L1148.4 1243.7 L1152.5 1231.9 L1156.7 1223.1 L1160.9 1222 L1165.1 1220 L1169.2 1227.8 L1173.4 1240.1 L1177.6 1241.8 L1181.8 1248.6 L1185.9 1253.6 L1190.1 1258 L1194.3 1264.9 L1198.5 1270.6 L1202.6 1277.4 L1206.8 1279.3 L1211 1285.2 L1215.1 1289.1 L1219.3 1294 L1223.5 1294.5 L1227.7 1293.2 L1231.8 1292.8 L1236 1288 L1240.2 1279.4 L1244.4 1274.2 L1248.5 1269.7 L1252.7 1260.1 L1256.9 1252.1 L1261.1 1240.5 L1265.2 1229 L1269.4 1221.1 L1273.6 1225.3 L1277.8 1229.4 L1281.9 1232 L1286.1 1242.6 L1290.3 1257.4 L1294.5 1251.5 L1298.6 1255.2 L1302.8 1254.2 L1307 1261.4 L1311.1 1259.5 L1315.3 1267.4 L1319.5 1271.1 L1323.7 1278.1 L1327.8 1281.9 L1332 1287.2 L1336.2 1292.2 L1340.4 1295.6 L1344.5 1297.3 L1348.7 1297.5 L1352.9 1298.2 L1357.1 1293.9 L1361.2 1285.8 L1365.4 1276.6 L1369.6 1264.9 L1373.8 1253.7 L1377.9 1246.8 L1382.1 1233.3 L1386.3 1228.7 L1390.5 1233.1 L1394.6 1237.4 L1398.8 1241.6 L1403 1250.1 L1407.2 1252.6 L1411.3 1259.5 L1415.5 1262.3 L1419.7 1268.7 L1423.8 1271.1 L1428 1267.4 L1432.2 1266.4 L1436.4 1273.8 L1440.5 1279.7 L1444.7 1286.5 L1448.9 1287 L1453.1 1292 L1457.2 1296.4 L1461.4 1297.3 L1465.6 1290.6 L1469.8 1279.4 L1473.9 1272 L1478.1 1261.6 L1482.3 1253.1 L1486.5 1233.2 L1490.6 1211 L1494.8 1218 L1499 1229.7 L1503.2 1229.4 L1507.3 1239.1 L1511.5 1240.5 L1515.7 1245.4 L1519.8 1254.4 L1524 1265.1 L1528.2 1267.1 L1532.4 1277.6 L1536.5 1284.9 L1540.7 1291 L1544.9 1294.3 L1549.1 1294 L1553.2 1293.4 L1557.4 1293.8 L1561.6 1293.9 L1565.8 1295.8 L1569.9 1299.8 L1574.1 1299.7 L1578.3 1298.5 L1582.5 1296.6 L1586.6 1286.6 L1590.8 1279.9 L1595 1275 L1599.2 1269.4 L1603.3 1260.4 L1607.5 1266.3 L1611.7 1265.5 L1615.8 1261.8 L1620 1260.3 L1624.2 1261.3 L1628.4 1263.8 L1632.5 1265.1 L1636.7 1264.7 L1640.9 1270.4 L1645.1 1280.1 L1649.2 1283.4 L1653.4 1288.1 L1657.6 1292.1 L1661.8 1294.4 L1665.9 1296.1 L1670.1 1297.6 L1674.3 1298.2 L1678.5 1297.2 L1682.6 1298.3 L1686.8 1296.9 L1691 1297.2 L1695.2 1289.2 L1699.3 1279.7 L1703.5 1265.8 L1707.7 1261.3 L1711.9 1256.9 L1716 1251.3 L1720.2 1251.6 L1724.4 1251.5 L1728.5 1251.2 L1732.7 1253.3 L1736.9 1255.1 L1741.1 1265.3 L1745.2 1265 L1749.4 1272.5 L1753.6 1281.2 L1757.8 1287.4 L1761.9 1285 L1766.1 1284.7 L1770.3 1287.8 L1774.5 1289.3 L1778.6 1293.8 L1782.8 1295.1 L1787 1294.6 L1791.2 1295.6 L1795.3 1298.8 L1799.5 1299.5 L1803.7 1299.6 L1807.9 1298.8 L1812 1295.6 L1816.2 1289.1 L1820.4 1285 L1824.5 1283 L1828.7 1274.2 L1832.9 1271.5 L1837.1 1262.3 L1841.2 1259 L1845.4 1266.3 L1849.6 1269.9 L1853.8 1268.2 L1857.9 1260.5 L1862.1 1265.1 L1866.3 1268.5 L1870.5 1270.2 L1874.6 1272.8 L1878.8 1274.7 L1883 1281.7 L1887.2 1291.4 L1891.3 1294.2 L1895.5 1296.5 L1899.7 1298.1 L1903.9 1298.4 L1908 1299.1 L1912.2 1299.6 L1916.4 1299.9 L1920.5 1300.5 L1924.7 1298.1 L1928.9 1295.6 L1933.1 1282.5 L1937.2 1272.8 L1941.4 1268.7 L1945.6 1264.7 L1949.8 1259.8 L1953.9 1246.1 L1958.1 1233.9 L1962.3 1245.7 L1966.5 1247.8 L1970.6 1253.9 L1974.8 1262.3 L1979 1260.7 L1983.2 1272.3 L1987.3 1276.5 L1991.5 1281.6 L1995.7 1282.5 L1999.9 1285.3 L2004 1290.8 L2008.2 1294.1 L2012.4 1295.8 L2016.5 1297.1 L2020.7 1297 L2024.9 1293.9 L2029.1 1288.4 L2033.2 1285 L2037.4 1274.8 L2041.6 1270.3 L2045.8 1262 L2049.9 1262.2 L2054.1 1262.1 L2058.3 1258.9 L2062.5 1258.8 L2066.6 1253 L2070.8 1256.1 L2075 1259.4 L2079.2 1265.4 L2083.3 1270.9 L2087.5 1279.8 L2091.7 1283.3 L2095.9 1286.8 L2100 1291.1 L2104.2 1292.5 L2108.4 1294.8 L2112.6 1296.7 L2116.7 1298.1 L2120.9 1297.8 L2125.1 1295.9 L2129.2 1292.1 L2133.4 1287.2 L2137.6 1276.3 L2141.8 1266.4 L2145.9 1251.7 L2150.1 1241.1 L2154.3 1228.5 L2158.5 1240.5 L2162.6 1233.6 L2166.8 1236.8 L2171 1238.1 L2175.2 1246.3 L2179.3 1251.5 L2183.5 1253.5 L2187.7 1256.4 L2191.9 1271.9 L2196 1271.9 L2200.2 1275.5 L2204.4 1280.4 L2208.6 1284.9 L2212.7 1289.9 L2216.9 1292.4 L2221.1 1293.3 L2225.2 1294.5 L2229.4 1293.1 L2233.6 1287.1 L2237.8 1276.2 L2241.9 1260.2 L2246.1 1242.1 L2250.3 1230.8 L2254.5 1224.7 L2258.6 1221.7 L2262.8 1231.6 L2267 1226.4 L2271.2 1225.4 L2275.3 1234.4 L2279.5 1235.9 L2283.7 1254.7 L2287.9 1256.4 L2292 1259.6 L2296.2 1265.6 L2300.4 1271.7 L2304.6 1283.2 L2308.7 1288.6 L2312.9 1292.3 L2317.1 1294.9 L2321.2 1297.7 L2325.4 1298.7 L2329.6 1295.6 L2333.8 1285 L2337.9 1269.1 L2342.1 1245.7 L2346.3 1229.2 L2350.5 1206 L2354.6 1195.5 L2358.8 1202.1 L2363 1208.9 L2367.2 1203.7 L2371.3 1203.5 L2375.5 1225.6 L2379.7 1225.1 L2383.9 1239.2 L2388 1253.4 L2392.2 1264.9 L2396.4 1276.5 L2400.6 1277.8 L2404.7 1279.3 L2408.9 1283.1 L2413.1 1286.3 L2417.2 1290.3 L2421.4 1294.5 L2425.6 1297 L2429.8 1293.9 L2433.9 1293.7 L2438.1 1290.8 L2442.3 1283.5 L2446.5 1274.5 L2450.6 1261.3 L2454.8 1255.2 L2459 1243.1 L2463.2 1247.8 L2467.3 1247.7 L2471.5 1244.6 L2475.7 1241.3 L2479.9 1241.9 L2484 1247.5 L2488.2 1251.5 L2492.4 1263.3 L2496.6 1264.9 L2500.7 1264.8 L2504.9 1266.9 L2509.1 1273.9 L2513.3 1279.9 L2517.4 1283.4 L2521.6 1280.6 L2525.8 1283.7 L2529.9 1289.8 L2534.1 1293.1 L2538.3 1294.2 L2542.5 1294.5 L2546.6 1293.1 L2550.8 1292 L2555 1287.5 L2559.2 1271.6 L2563.3 1255.7 L2567.5 1238 L2571.7 1220.8 L2575.9 1220 L2580 1216.1 L2584.2 1223.4 L2588.4 1221.5 L2592.6 1228.9 L2596.7 1234.2 L2600.9 1233.7 L2605.1 1241.5 L2609.3 1260.4 L2613.4 1268.9 L2617.6 1271.7 L2621.8 1274.7 L2625.9 1283 L2630.1 1289.9 L2634.3 1294.9 L2638.5 1293.3 L2642.6 1295.4 L2646.8 1294.2 L2651 1290.9 L2655.2 1284.7 L2659.3 1270.5 L2663.5 1256.3 L2667.7 1235.8 L2671.9 1223.8 L2676 1218.7 L2680.2 1230.8 L2684.4 1231.6 L2688.6 1225 L2692.7 1220.6 L2696.9 1230.7 L2701.1 1247.4 L2705.3 1256.7 L2709.4 1267 L2713.6 1270.3 L2717.8 1277.7 L2721.9 1281.9 L2726.1 1286.8 L2730.3 1290.7 L2734.5 1291.9 L2738.6 1294.4 L2742.8 1296.6 L2747 1295.7 L2751.2 1291.4 L2755.3 1287.2 L2759.5 1275.3 L2763.7 1268.2 L2767.9 1261.2 L2772 1250.2 L2776.2 1243.4 L2780.4 1231.5 L2784.6 1237.4 L2788.7 1237 L2792.9 1241.5 L2797.1 1244.6 L2801.3 1245.4 L2805.4 1243.2 L2809.6 1259.8 L2813.8 1263.9 L2817.9 1269.5 L2822.1 1277 L2826.3 1277.6 L2830.5 1282.5 L2834.6 1284.7 L2838.8 1289.8 L2843 1291.6 L2847.2 1295.2 L2851.3 1295.8 L2855.5 1298.2 L2859.7 1299.5 L2863.9 1299.4 L2868 1299.6 L2872.2 1299.5 L2876.4 1297.3 L2880.6 1293.1 L2884.7 1288.6 L2888.9 1274.9 L2893.1 1269.7 L2897.3 1271.8 L2901.4 1269.2 L2905.6 1271.4 L2909.8 1264.4 L2914 1265.4 L2918.1 1261.1 L2922.3 1256.3 L2926.5 1265 L2930.6 1272.4 L2934.8 1280.6 L2938.9 1282.1 L2943 1287.8 L2947.2 1293.1 L2951.3 1292.3 L2955.4 1295.5 L2959.6 1297.5 L2963.7 1299.6 L2967.9 1299.1 L2972 1300.3 L2976.1 1300.6 L2980.3 1299.9 L2984.4 1295.3 L2988.6 1295.2 L2992.7 1288.6 L2996.9 1279.1 L3001 1270.2 L3005.1 1261.8 L3009.3 1254.3 L3013.4 1255.5 L3017.6 1256.3 L3021.7 1234.9 L3025.8 1244.2 L3030 1256.8 L3029.5 1252 L3032.1 1253.6 L3034.5 1254.7 L3037 1254.5 L3039.5 1256 L3042 1259.3 L3044.5 1262.6 L3047 1265.9 L3049.4 1268.8 L3051.9 1272 L3054.4 1275.5 L3056.9 1278.9 L3059.4 1281.7 L3061.9 1284.2 L3064.4 1286.6 L3066.9 1288.7 L3069.3 1290.5 L3071.8 1292.1 L3074.3 1293.5 L3076.8 1294.7 L3079.2 1295.8 L3081.7 1296.7 L3084.2 1297.6 L3085 1297.9 L3085 1301.3Z" fill="#eef0f4" clip-path="url(#navfill)"/>
<line x1="293.3" y1="1181.7" x2="293.3" y2="1301.3" stroke="#e2e2e2" stroke-width="2.2"/>
<text x="302" y="1220.3" font-size="33" fill="#888" textLength="71.7" lengthAdjust="spacingAndGlyphs">1750</text>
<line x1="790.2" y1="1181.7" x2="790.2" y2="1301.3" stroke="#e2e2e2" stroke-width="2.2"/>
<text x="798.9" y="1220.3" font-size="33" fill="#888" textLength="71.7" lengthAdjust="spacingAndGlyphs">1800</text>
<line x1="1287.1" y1="1181.7" x2="1287.1" y2="1301.3" stroke="#e2e2e2" stroke-width="2.2"/>
<text x="1295.8" y="1220.3" font-size="33" fill="#888" textLength="71.7" lengthAdjust="spacingAndGlyphs">1850</text>
<line x1="1784" y1="1181.7" x2="1784" y2="1301.3" stroke="#e2e2e2" stroke-width="2.2"/>
<text x="1792.7" y="1220.3" font-size="33" fill="#888" textLength="71.7" lengthAdjust="spacingAndGlyphs">1900</text>
<line x1="2280.9" y1="1181.7" x2="2280.9" y2="1301.3" stroke="#e2e2e2" stroke-width="2.2"/>
<text x="2289.6" y="1220.3" font-size="33" fill="#888" textLength="71.7" lengthAdjust="spacingAndGlyphs">1950</text>
<line x1="2777.8" y1="1181.7" x2="2777.8" y2="1301.3" stroke="#e2e2e2" stroke-width="2.2"/>
<text x="2786.5" y="1220.3" font-size="33" fill="#888" textLength="71.7" lengthAdjust="spacingAndGlyphs">2000</text>
<path d="M3034.5 1247.8 L3037 1248.3 L3039.5 1250.3 L3042 1253.6 L3044.5 1256.1 L3047 1258 L3049.4 1260 L3051.9 1262.6 L3054.4 1265.9 L3056.9 1269.5 L3059.4 1272.5 L3061.9 1275 L3064.4 1276.6 L3066.9 1277.9 L3069.3 1279.3 L3071.8 1281.3 L3074.3 1283.8 L3076.8 1286.6 L3079.2 1289.3 L3081.7 1291.5 L3084.2 1292.8 L3084.2 1301.3 L3081.7 1301.3 L3079.2 1301.2 L3076.8 1300.9 L3074.3 1300.3 L3071.8 1299.3 L3069.3 1298 L3066.9 1296.4 L3064.4 1294.6 L3061.9 1292.7 L3059.4 1290.6 L3056.9 1288.3 L3054.4 1285.4 L3051.9 1282.1 L3049.4 1278.5 L3047 1274.8 L3044.5 1270.3 L3042 1266.1 L3039.5 1261.7 L3037 1259.4 L3034.5 1259.1Z" fill="#f7a8d8" fill-opacity="0.55"/>
<path d="M284.4 1244.9 L288.5 1252.2 L292.7 1250.3 L296.9 1248.4 L301.1 1255.7 L305.2 1266.8 L309.4 1271.6 L313.6 1274.7 L317.7 1269.8 L321.9 1273 L326.1 1280.6 L330.3 1285.2 L334.4 1290.4 L338.6 1294.1 L342.8 1295 L347 1296.4 L351.1 1294.9 L355.3 1295 L359.5 1294 L363.7 1289.5 L367.8 1278.9 L372 1276.3 L376.2 1273.4 L380.4 1266.8 L384.5 1269.1 L388.7 1270.1 L392.9 1266.1 L397.1 1267.7 L401.2 1254.2 L405.4 1250.5 L409.6 1251.2 L413.7 1253.9 L417.9 1267.3 L422.1 1267.4 L426.3 1276 L430.4 1276.1 L434.6 1278.9 L438.8 1277.7 L443 1281.9 L447.1 1288.5 L451.3 1290.7 L455.5 1294 L459.7 1292.1 L463.8 1285.8 L468 1279 L472.2 1271.7 L476.4 1258.7 L480.5 1242.4 L484.7 1236.8 L488.9 1237.3 L493.1 1230.3 L497.2 1238 L501.4 1242.8 L505.6 1248.2 L509.7 1253.5 L513.9 1257.5 L518.1 1265.1 L522.3 1270.9 L526.4 1279.6 L530.6 1279.2 L534.8 1282.1 L539 1287 L543.1 1293.1 L547.3 1295.8 L551.5 1295.1 L555.7 1291.1 L559.8 1280.7 L564 1259.2 L568.2 1237.5 L572.4 1220.8 L576.5 1198.2 L580.7 1211.2 L584.9 1219 L589.1 1224.3 L593.2 1237 L597.4 1250.5 L601.6 1253.3 L605.8 1256.4 L609.9 1265.7 L614.1 1276.9 L618.3 1278.8 L622.4 1282.7 L626.6 1287 L630.8 1292.6 L635 1294.9 L639.1 1294.4 L643.3 1290.3 L647.5 1281.8 L651.7 1264.8 L655.8 1248.6 L660 1232.3 L664.2 1218.2 L668.4 1219.3 L672.5 1219.9 L676.7 1222.8 L680.9 1222.9 L685.1 1218.4 L689.2 1230 L693.4 1242.2 L697.6 1249.7 L701.8 1257.6 L705.9 1259.2 L710.1 1261 L714.3 1266.4 L718.4 1265.1 L722.6 1271 L726.8 1270.2 L731 1273.8 L735.1 1272.9 L739.3 1280.8 L743.5 1286.6 L747.7 1288.7 L751.8 1289.2 L756 1291.1 L760.2 1295.3 L764.4 1296.9 L768.5 1298 L772.7 1298.9 L776.9 1299.1 L781.1 1297 L785.2 1297.3 L789.4 1296.2 L793.6 1292.8 L797.8 1289.6 L801.9 1284 L806.1 1278.1 L810.3 1274.7 L814.4 1272.7 L818.6 1272 L822.8 1273.9 L827 1275.3 L831.1 1273.3 L835.3 1272.7 L839.5 1272.3 L843.7 1276.3 L847.8 1279.9 L852 1280.9 L856.2 1287 L860.4 1293 L864.5 1294.7 L868.7 1296.1 L872.9 1295.7 L877.1 1297.3 L881.2 1299.3 L885.4 1300.5 L889.6 1301 L893.8 1301.3 L897.9 1301.3 L902.1 1300.9 L906.3 1300.9 L910.4 1299.3 L914.6 1299.2 L918.8 1296.3 L923 1293.6 L927.1 1292.5 L931.3 1291.7 L935.5 1293.4 L939.7 1285.3 L943.8 1278 L948 1274.4 L952.2 1274.8 L956.4 1272.4 L960.5 1271.3 L964.7 1278.4 L968.9 1277.7 L973.1 1279.5 L977.2 1284.2 L981.4 1284.9 L985.6 1288.9 L989.8 1290.8 L993.9 1293 L998.1 1294.9 L1002.3 1297.5 L1006.5 1297.7 L1010.6 1299.2 L1014.8 1299.2 L1019 1299.4 L1023.1 1300.2 L1027.3 1300.5 L1031.5 1297.7 L1035.7 1296.4 L1039.8 1293.3 L1044 1290.2 L1048.2 1284.2 L1052.4 1280.1 L1056.5 1279.1 L1060.7 1275.1 L1064.9 1267.6 L1069.1 1264.8 L1073.2 1258.3 L1077.4 1258.9 L1081.6 1260.4 L1085.8 1255.4 L1089.9 1259.6 L1094.1 1262.6 L1098.3 1258.1 L1102.5 1273.5 L1106.6 1274.9 L1110.8 1280.4 L1115 1287.1 L1119.1 1294.8 L1123.3 1295.6 L1127.5 1296.8 L1131.7 1295.6 L1135.8 1290.8 L1140 1277.7 L1144.2 1264.5 L1148.4 1243.7 L1152.5 1231.9 L1156.7 1223.1 L1160.9 1222 L1165.1 1220 L1169.2 1227.8 L1173.4 1240.1 L1177.6 1241.8 L1181.8 1248.6 L1185.9 1253.6 L1190.1 1258 L1194.3 1264.9 L1198.5 1270.6 L1202.6 1277.4 L1206.8 1279.3 L1211 1285.2 L1215.1 1289.1 L1219.3 1294 L1223.5 1294.5 L1227.7 1293.2 L1231.8 1292.8 L1236 1288 L1240.2 1279.4 L1244.4 1274.2 L1248.5 1269.7 L1252.7 1260.1 L1256.9 1252.1 L1261.1 1240.5 L1265.2 1229 L1269.4 1221.1 L1273.6 1225.3 L1277.8 1229.4 L1281.9 1232 L1286.1 1242.6 L1290.3 1257.4 L1294.5 1251.5 L1298.6 1255.2 L1302.8 1254.2 L1307 1261.4 L1311.1 1259.5 L1315.3 1267.4 L1319.5 1271.1 L1323.7 1278.1 L1327.8 1281.9 L1332 1287.2 L1336.2 1292.2 L1340.4 1295.6 L1344.5 1297.3 L1348.7 1297.5 L1352.9 1298.2 L1357.1 1293.9 L1361.2 1285.8 L1365.4 1276.6 L1369.6 1264.9 L1373.8 1253.7 L1377.9 1246.8 L1382.1 1233.3 L1386.3 1228.7 L1390.5 1233.1 L1394.6 1237.4 L1398.8 1241.6 L1403 1250.1 L1407.2 1252.6 L1411.3 1259.5 L1415.5 1262.3 L1419.7 1268.7 L1423.8 1271.1 L1428 1267.4 L1432.2 1266.4 L1436.4 1273.8 L1440.5 1279.7 L1444.7 1286.5 L1448.9 1287 L1453.1 1292 L1457.2 1296.4 L1461.4 1297.3 L1465.6 1290.6 L1469.8 1279.4 L1473.9 1272 L1478.1 1261.6 L1482.3 1253.1 L1486.5 1233.2 L1490.6 1211 L1494.8 1218 L1499 1229.7 L1503.2 1229.4 L1507.3 1239.1 L1511.5 1240.5 L1515.7 1245.4 L1519.8 1254.4 L1524 1265.1 L1528.2 1267.1 L1532.4 1277.6 L1536.5 1284.9 L1540.7 1291 L1544.9 1294.3 L1549.1 1294 L1553.2 1293.4 L1557.4 1293.8 L1561.6 1293.9 L1565.8 1295.8 L1569.9 1299.8 L1574.1 1299.7 L1578.3 1298.5 L1582.5 1296.6 L1586.6 1286.6 L1590.8 1279.9 L1595 1275 L1599.2 1269.4 L1603.3 1260.4 L1607.5 1266.3 L1611.7 1265.5 L1615.8 1261.8 L1620 1260.3 L1624.2 1261.3 L1628.4 1263.8 L1632.5 1265.1 L1636.7 1264.7 L1640.9 1270.4 L1645.1 1280.1 L1649.2 1283.4 L1653.4 1288.1 L1657.6 1292.1 L1661.8 1294.4 L1665.9 1296.1 L1670.1 1297.6 L1674.3 1298.2 L1678.5 1297.2 L1682.6 1298.3 L1686.8 1296.9 L1691 1297.2 L1695.2 1289.2 L1699.3 1279.7 L1703.5 1265.8 L1707.7 1261.3 L1711.9 1256.9 L1716 1251.3 L1720.2 1251.6 L1724.4 1251.5 L1728.5 1251.2 L1732.7 1253.3 L1736.9 1255.1 L1741.1 1265.3 L1745.2 1265 L1749.4 1272.5 L1753.6 1281.2 L1757.8 1287.4 L1761.9 1285 L1766.1 1284.7 L1770.3 1287.8 L1774.5 1289.3 L1778.6 1293.8 L1782.8 1295.1 L1787 1294.6 L1791.2 1295.6 L1795.3 1298.8 L1799.5 1299.5 L1803.7 1299.6 L1807.9 1298.8 L1812 1295.6 L1816.2 1289.1 L1820.4 1285 L1824.5 1283 L1828.7 1274.2 L1832.9 1271.5 L1837.1 1262.3 L1841.2 1259 L1845.4 1266.3 L1849.6 1269.9 L1853.8 1268.2 L1857.9 1260.5 L1862.1 1265.1 L1866.3 1268.5 L1870.5 1270.2 L1874.6 1272.8 L1878.8 1274.7 L1883 1281.7 L1887.2 1291.4 L1891.3 1294.2 L1895.5 1296.5 L1899.7 1298.1 L1903.9 1298.4 L1908 1299.1 L1912.2 1299.6 L1916.4 1299.9 L1920.5 1300.5 L1924.7 1298.1 L1928.9 1295.6 L1933.1 1282.5 L1937.2 1272.8 L1941.4 1268.7 L1945.6 1264.7 L1949.8 1259.8 L1953.9 1246.1 L1958.1 1233.9 L1962.3 1245.7 L1966.5 1247.8 L1970.6 1253.9 L1974.8 1262.3 L1979 1260.7 L1983.2 1272.3 L1987.3 1276.5 L1991.5 1281.6 L1995.7 1282.5 L1999.9 1285.3 L2004 1290.8 L2008.2 1294.1 L2012.4 1295.8 L2016.5 1297.1 L2020.7 1297 L2024.9 1293.9 L2029.1 1288.4 L2033.2 1285 L2037.4 1274.8 L2041.6 1270.3 L2045.8 1262 L2049.9 1262.2 L2054.1 1262.1 L2058.3 1258.9 L2062.5 1258.8 L2066.6 1253 L2070.8 1256.1 L2075 1259.4 L2079.2 1265.4 L2083.3 1270.9 L2087.5 1279.8 L2091.7 1283.3 L2095.9 1286.8 L2100 1291.1 L2104.2 1292.5 L2108.4 1294.8 L2112.6 1296.7 L2116.7 1298.1 L2120.9 1297.8 L2125.1 1295.9 L2129.2 1292.1 L2133.4 1287.2 L2137.6 1276.3 L2141.8 1266.4 L2145.9 1251.7 L2150.1 1241.1 L2154.3 1228.5 L2158.5 1240.5 L2162.6 1233.6 L2166.8 1236.8 L2171 1238.1 L2175.2 1246.3 L2179.3 1251.5 L2183.5 1253.5 L2187.7 1256.4 L2191.9 1271.9 L2196 1271.9 L2200.2 1275.5 L2204.4 1280.4 L2208.6 1284.9 L2212.7 1289.9 L2216.9 1292.4 L2221.1 1293.3 L2225.2 1294.5 L2229.4 1293.1 L2233.6 1287.1 L2237.8 1276.2 L2241.9 1260.2 L2246.1 1242.1 L2250.3 1230.8 L2254.5 1224.7 L2258.6 1221.7 L2262.8 1231.6 L2267 1226.4 L2271.2 1225.4 L2275.3 1234.4 L2279.5 1235.9 L2283.7 1254.7 L2287.9 1256.4 L2292 1259.6 L2296.2 1265.6 L2300.4 1271.7 L2304.6 1283.2 L2308.7 1288.6 L2312.9 1292.3 L2317.1 1294.9 L2321.2 1297.7 L2325.4 1298.7 L2329.6 1295.6 L2333.8 1285 L2337.9 1269.1 L2342.1 1245.7 L2346.3 1229.2 L2350.5 1206 L2354.6 1195.5 L2358.8 1202.1 L2363 1208.9 L2367.2 1203.7 L2371.3 1203.5 L2375.5 1225.6 L2379.7 1225.1 L2383.9 1239.2 L2388 1253.4 L2392.2 1264.9 L2396.4 1276.5 L2400.6 1277.8 L2404.7 1279.3 L2408.9 1283.1 L2413.1 1286.3 L2417.2 1290.3 L2421.4 1294.5 L2425.6 1297 L2429.8 1293.9 L2433.9 1293.7 L2438.1 1290.8 L2442.3 1283.5 L2446.5 1274.5 L2450.6 1261.3 L2454.8 1255.2 L2459 1243.1 L2463.2 1247.8 L2467.3 1247.7 L2471.5 1244.6 L2475.7 1241.3 L2479.9 1241.9 L2484 1247.5 L2488.2 1251.5 L2492.4 1263.3 L2496.6 1264.9 L2500.7 1264.8 L2504.9 1266.9 L2509.1 1273.9 L2513.3 1279.9 L2517.4 1283.4 L2521.6 1280.6 L2525.8 1283.7 L2529.9 1289.8 L2534.1 1293.1 L2538.3 1294.2 L2542.5 1294.5 L2546.6 1293.1 L2550.8 1292 L2555 1287.5 L2559.2 1271.6 L2563.3 1255.7 L2567.5 1238 L2571.7 1220.8 L2575.9 1220 L2580 1216.1 L2584.2 1223.4 L2588.4 1221.5 L2592.6 1228.9 L2596.7 1234.2 L2600.9 1233.7 L2605.1 1241.5 L2609.3 1260.4 L2613.4 1268.9 L2617.6 1271.7 L2621.8 1274.7 L2625.9 1283 L2630.1 1289.9 L2634.3 1294.9 L2638.5 1293.3 L2642.6 1295.4 L2646.8 1294.2 L2651 1290.9 L2655.2 1284.7 L2659.3 1270.5 L2663.5 1256.3 L2667.7 1235.8 L2671.9 1223.8 L2676 1218.7 L2680.2 1230.8 L2684.4 1231.6 L2688.6 1225 L2692.7 1220.6 L2696.9 1230.7 L2701.1 1247.4 L2705.3 1256.7 L2709.4 1267 L2713.6 1270.3 L2717.8 1277.7 L2721.9 1281.9 L2726.1 1286.8 L2730.3 1290.7 L2734.5 1291.9 L2738.6 1294.4 L2742.8 1296.6 L2747 1295.7 L2751.2 1291.4 L2755.3 1287.2 L2759.5 1275.3 L2763.7 1268.2 L2767.9 1261.2 L2772 1250.2 L2776.2 1243.4 L2780.4 1231.5 L2784.6 1237.4 L2788.7 1237 L2792.9 1241.5 L2797.1 1244.6 L2801.3 1245.4 L2805.4 1243.2 L2809.6 1259.8 L2813.8 1263.9 L2817.9 1269.5 L2822.1 1277 L2826.3 1277.6 L2830.5 1282.5 L2834.6 1284.7 L2838.8 1289.8 L2843 1291.6 L2847.2 1295.2 L2851.3 1295.8 L2855.5 1298.2 L2859.7 1299.5 L2863.9 1299.4 L2868 1299.6 L2872.2 1299.5 L2876.4 1297.3 L2880.6 1293.1 L2884.7 1288.6 L2888.9 1274.9 L2893.1 1269.7 L2897.3 1271.8 L2901.4 1269.2 L2905.6 1271.4 L2909.8 1264.4 L2914 1265.4 L2918.1 1261.1 L2922.3 1256.3 L2926.5 1265 L2930.6 1272.4 L2934.8 1280.6 L2938.9 1282.1 L2943 1287.8 L2947.2 1293.1 L2951.3 1292.3 L2955.4 1295.5 L2959.6 1297.5 L2963.7 1299.6 L2967.9 1299.1 L2972 1300.3 L2976.1 1300.6 L2980.3 1299.9 L2984.4 1295.3 L2988.6 1295.2 L2992.7 1288.6 L2996.9 1279.1 L3001 1270.2 L3005.1 1261.8 L3009.3 1254.3 L3013.4 1255.5 L3017.6 1256.3 L3021.7 1234.9 L3025.8 1244.2 L3030 1256.8" fill="none" stroke="#4b5560" stroke-width="2.4" stroke-linejoin="round"/>
<path d="M3030 1256.8 L3029.5 1252 L3032.1 1253.6 L3034.5 1254.7 L3037 1254.5 L3039.5 1256 L3042 1259.3 L3044.5 1262.6 L3047 1265.9 L3049.4 1268.8 L3051.9 1272 L3054.4 1275.5 L3056.9 1278.9 L3059.4 1281.7 L3061.9 1284.2 L3064.4 1286.6 L3066.9 1288.7 L3069.3 1290.5 L3071.8 1292.1 L3074.3 1293.5 L3076.8 1294.7 L3079.2 1295.8 L3081.7 1296.7 L3084.2 1297.6 L3085 1297.9" fill="none" stroke="#a040b8" stroke-width="2.8" stroke-linejoin="round"/>
<rect x="2935.7" y="1181.7" width="151.3" height="119.6" fill="#6468f0" fill-opacity="0.29"/>
<line x1="284.8" y1="1181.7" x2="3185" y2="1181.7" stroke="#8a8a8a" stroke-width="3.2"/>
<line x1="2935.7" y1="1181.7" x2="2935.7" y2="1301.3" stroke="#8a8ea0" stroke-width="3"/>
<line x1="3087" y1="1181.7" x2="3087" y2="1301.3" stroke="#8a8ea0" stroke-width="3"/>
<rect x="2924.1" y="1220.5" width="23" height="43" fill="#f4f4f4" stroke="#a2a2a2" stroke-width="2.3"/>
<line x1="2932.6" y1="1231" x2="2932.6" y2="1254" stroke="#888" stroke-width="2.6"/>
<line x1="2938.6" y1="1231" x2="2938.6" y2="1254" stroke="#888" stroke-width="2.6"/>
<rect x="3075.2" y="1220.5" width="23" height="43" fill="#f4f4f4" stroke="#a2a2a2" stroke-width="2.3"/>
<line x1="3083.7" y1="1231" x2="3083.7" y2="1254" stroke="#888" stroke-width="2.6"/>
<line x1="3089.7" y1="1231" x2="3089.7" y2="1254" stroke="#888" stroke-width="2.6"/>
<line x1="248" y1="1354.1" x2="294.5" y2="1354.1" stroke="#2b3949" stroke-width="5"/>
<path d="M271.2 1343.6l9.3 10.5l-9.3 10.5l-9.3 -10.5z" fill="#2b3949"/>
<text x="309" y="1365.6" font-size="36" fill="#3a3d42" textLength="259" lengthAdjust="spacingAndGlyphs">Monthly Values</text>
<line x1="901.5" y1="1354.1" x2="948" y2="1354.1" stroke="#7444e0" stroke-width="5"/>
<text x="962.6" y="1365.6" font-size="36" fill="#3a3d42" textLength="443" lengthAdjust="spacingAndGlyphs">Smoothed Monthly Values</text>
<rect x="1556.5" y="1351.1" width="46" height="16.5" fill="#f4a0c4"/>
<text x="1616.6" y="1365.6" font-size="36" fill="#3a3d42" textLength="534" lengthAdjust="spacingAndGlyphs">75th Percentile Predicted Range</text>
<rect x="2210" y="1351.1" width="46" height="16.5" fill="#f5859f"/>
<text x="2270.4" y="1365.6" font-size="36" fill="#3a3d42" textLength="533.5" lengthAdjust="spacingAndGlyphs">50th Percentile Predicted Range</text>
<rect x="248" y="1406" width="46" height="16.5" fill="#8b008b"/>
<text x="309" y="1422" font-size="36" fill="#3a3d42" textLength="535" lengthAdjust="spacingAndGlyphs">25th Percentile Predicted Range</text>
<line x1="901.5" y1="1410.5" x2="948" y2="1410.5" stroke="#880a8e" stroke-width="5"/>
<text x="962.6" y="1422" font-size="36" fill="#3a3d42" textLength="277.5" lengthAdjust="spacingAndGlyphs">Predicted Values</text>
<text x="2828.2" y="1362.4" font-size="36" fill="#707070" textLength="357.8" lengthAdjust="spacingAndGlyphs">Updated: 2025-11-02</text>
<g transform="translate(2880 1400) scale(0.13628)">
<defs>
<clipPath id="noaaclip"><circle cx="612.5" cy="595" r="433"/></clipPath>
<clipPath id="nwsclip"><circle cx="1785" cy="570" r="365"/></clipPath>
<path id="nwsring" d="M1593.5 930.3A408 408 0 1 1 1976.5 930.3A408 408 0 1 1 1593.5 930.3"/>
</defs>
<g clip-path="url(#noaaclip)">
<circle cx="612.5" cy="595" r="433" fill="#1a90da"/>
<path d="M0 0H1200V440L1000 410C900 500 780 640 640 735C600 760 560 750 520 730C420 680 330 580 240 492L150 488L0 488Z" fill="#fff"/>
<path d="M262 335L262 100L960 100L955 318C880 380 800 480 725 595C695 640 660 668 620 668C570 668 510 645 470 605C410 540 370 440 262 335Z" fill="#1b3e9d"/>
<path d="M478 772C600 742 700 715 812 688C720 730 620 772 505 797Z" fill="#fff"/>
</g>
<text x="440" y="440" font-size="138" font-weight="bold" fill="#fff" textLength="350" lengthAdjust="spacingAndGlyphs">NOAA</text>
<circle cx="1785" cy="570" r="372" fill="#3aa4de" stroke="#d9dcf6" stroke-width="14"/>
<g clip-path="url(#nwsclip)">
<path d="M1400 780C1550 760 1700 800 1850 830C2000 850 2100 800 2200 700L2200 1000L1400 1000Z" fill="#45b4e6"/>
<path d="M1480 715C1600 700 1700 745 1800 775C1900 800 2000 780 2090 690C2050 800 1950 835 1850 828C1700 815 1590 790 1480 715Z" fill="#fff"/>
<path d="M1425 640L1450 540L1520 490L1600 470L1650 455L1720 430L1760 385L1850 370L1960 385L2050 420L2100 480L2160 540L2140 620L2080 680L2020 720L1960 770L1880 772L1800 750L1700 722L1600 702L1500 702L1440 682Z" fill="#0c0ab4" stroke="#0c0ab4" stroke-width="24" stroke-linejoin="round"/>
<path d="M1540 300L1592 300L1705 420L1682 440L1795 560L1765 582L1905 722L1882 738L1735 600L1768 580L1655 462L1683 440Z" fill="#fff"/>
</g>
<text font-size="130" font-weight="bold" fill="#e8242e" stroke="#e8242e" stroke-width="7"><textPath href="#nwsring" textLength="2130" lengthAdjust="spacing">NATIONAL WEATHER SERVICE</textPath></text>
<circle cx="1650" cy="1020" r="19" fill="#9a92b8"/><circle cx="1780" cy="1042" r="19" fill="#d8283a"/><circle cx="1910" cy="1020" r="19" fill="#9a92b8"/>
</g>

</svg></body></html>
